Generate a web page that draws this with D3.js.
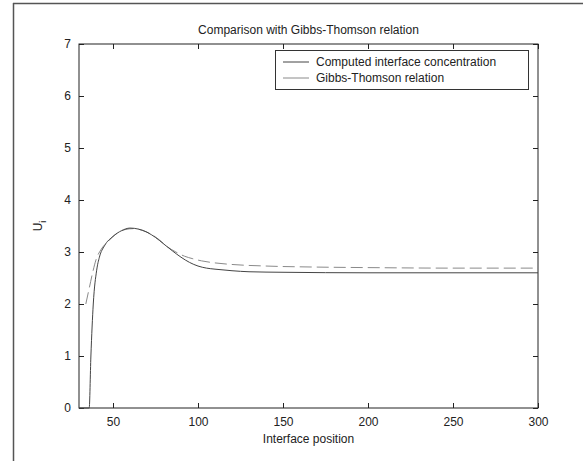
<!DOCTYPE html>
<html>
<head>
<meta charset="utf-8">
<script src="https://cdn.jsdelivr.net/npm/d3@7"></script>
<style>
  html, body { margin: 0; padding: 0; background: #fff; }
  svg text { font-family: Arial, "Liberation Sans", sans-serif; fill: #222; }
</style>
</head>
<body>
<div id="chart"></div>
<script>
// Values
const xTicks = [50, 100, 150, 200, 250, 300];
const yTicks = [0, 1, 2, 3, 4, 5, 6, 7];

// Computed interface concentration (solid)
const computedX = [30, 36, 37, 38.4, 40.4, 42, 45, 50, 55, 60, 65, 70, 75, 80, 85, 90, 95, 100, 105, 110, 120, 130, 150, 200, 250, 300];
const computedY = [0, 0, 1, 2, 2.65, 2.9, 3.12, 3.3, 3.41, 3.46, 3.44, 3.38, 3.28, 3.15, 3.02, 2.9, 2.8, 2.73, 2.69, 2.67, 2.64, 2.62, 2.61, 2.6, 2.6, 2.6];

// Gibbs-Thomson relation (dashed)
const gibbsX = [34, 36, 38, 40, 43, 47, 52, 57, 62, 67, 72, 77, 82, 87, 92, 97, 102, 110, 120, 140, 170, 200, 250, 300];
const gibbsY = [2.0, 2.3, 2.6, 2.85, 3.05, 3.2, 3.35, 3.43, 3.45, 3.42, 3.35, 3.24, 3.1, 3.0, 2.92, 2.87, 2.83, 2.79, 2.76, 2.73, 2.71, 2.7, 2.69, 2.69];

const width = 583, height = 461;
const margin = { top: 44, right: 45, bottom: 53, left: 79 };

const svg = d3.select('#chart').append('svg').attr('width', width).attr('height', height);

// figure frame (only left and top edges visible in the crop)
svg.append('line').attr('x1', 13).attr('x2', width).attr('y1', 3.5).attr('y2', 3.5)
  .attr('stroke', '#555').attr('stroke-width', 1.5);
svg.append('line').attr('x1', 13.5).attr('x2', 13.5).attr('y1', 3).attr('y2', height)
  .attr('stroke', '#555').attr('stroke-width', 1.5);

const x = d3.scaleLinear().domain([30, 300]).range([margin.left, width - margin.right]);
const y = d3.scaleLinear().domain([0, 7]).range([height - margin.bottom, margin.top]);

const x0 = margin.left, x1 = width - margin.right, y0 = height - margin.bottom, y1 = margin.top;

// axes box
svg.append('rect').attr('x', x0).attr('y', y1).attr('width', x1 - x0).attr('height', y0 - y1)
  .attr('fill', 'none').attr('stroke', '#222').attr('stroke-width', 1);

const tickLen = 5;
const styleAxis = (g) => {
  g.select('.domain').remove();
  g.selectAll('line').attr('stroke', '#222');
  g.selectAll('text').style('font-size', '12px').attr('fill', '#333');
};

svg.append('g').attr('transform', `translate(0,${y0})`)
  .call(d3.axisBottom(x).tickValues(xTicks).tickSize(-tickLen).tickPadding(9).tickFormat(d3.format('d')))
  .call(styleAxis);
svg.append('g').attr('transform', `translate(0,${y1})`)
  .call(d3.axisTop(x).tickValues(xTicks).tickSize(-tickLen).tickFormat(''))
  .call(styleAxis);
svg.append('g').attr('transform', `translate(${x0},0)`)
  .call(d3.axisLeft(y).tickValues(yTicks).tickSize(-tickLen).tickPadding(8).tickFormat(d3.format('d')))
  .call(styleAxis);
svg.append('g').attr('transform', `translate(${x1},0)`)
  .call(d3.axisRight(y).tickValues(yTicks).tickSize(-tickLen).tickFormat(''))
  .call(styleAxis);

const line = d3.line().x((d) => x(d[0])).y((d) => y(d[1])).curve(d3.curveMonotoneX);
const computed = computedX.map((v, i) => [v, computedY[i]]);
const gibbs = gibbsX.map((v, i) => [v, gibbsY[i]]);

svg.append('path').datum(gibbs).attr('d', line)
  .attr('fill', 'none').attr('stroke', '#8a8a8a').attr('stroke-width', 1)
  .attr('stroke-dasharray', '12,5');
svg.append('path').datum(computed).attr('d', line)
  .attr('fill', 'none').attr('stroke', '#444').attr('stroke-width', 1);

// title and labels
svg.append('text').attr('x', (x0 + x1) / 2).attr('y', 34).attr('text-anchor', 'middle')
  .style('font-size', '12px').text('Comparison with Gibbs-Thomson relation');
svg.append('text').attr('x', (x0 + x1) / 2).attr('y', 443).attr('text-anchor', 'middle')
  .style('font-size', '12px').text('Interface position');
const yl = svg.append('text').attr('transform', `translate(42,${(y0 + y1) / 2}) rotate(-90)`)
  .attr('text-anchor', 'middle').style('font-size', '12px');
yl.append('tspan').text('U');
yl.append('tspan').attr('dy', 4).style('font-size', '9px').text('i');

// legend
const legend = svg.append('g');
legend.append('rect').attr('x', 275.5).attr('y', 50.5).attr('width', 253).attr('height', 39)
  .attr('fill', '#fff').attr('stroke', '#333');
const items = [
  { label: 'Computed interface concentration', color: '#444' },
  { label: 'Gibbs-Thomson relation', color: '#8a8a8a' }
];
items.forEach((it, i) => {
  const cy = 62 + i * 16;
  legend.append('line').attr('x1', 283).attr('x2', 309).attr('y1', cy).attr('y2', cy)
    .attr('stroke', it.color);
  legend.append('text').attr('x', 316).attr('y', cy + 4).style('font-size', '12px').text(it.label);
});
</script>
</body>
</html>
